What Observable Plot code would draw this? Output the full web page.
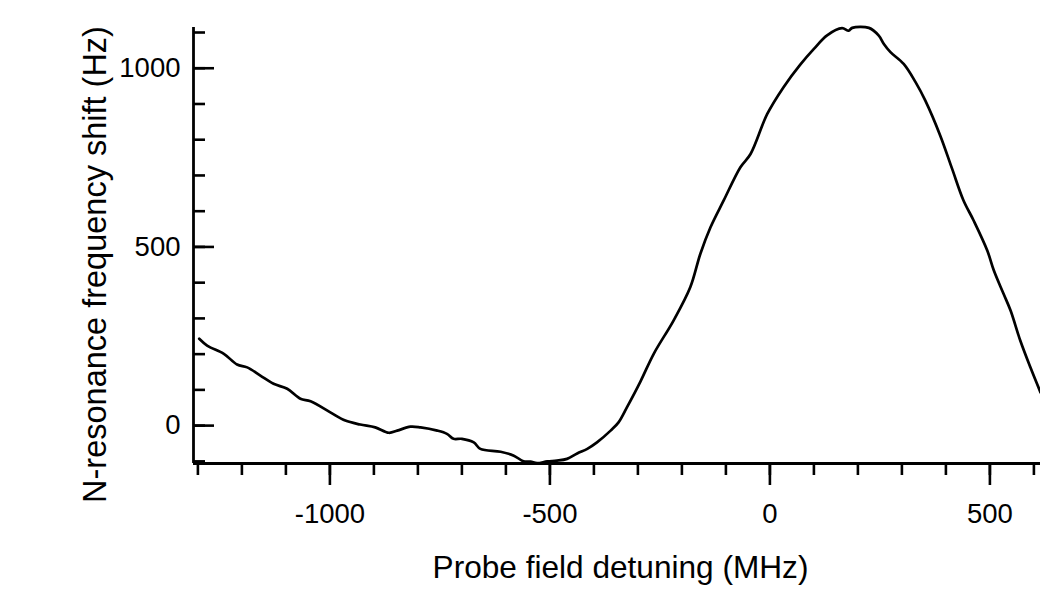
<!DOCTYPE html>
<html>
<head>
<meta charset="utf-8">
<script src="https://cdn.jsdelivr.net/npm/d3@7"></script>
<script src="https://cdn.jsdelivr.net/npm/@observablehq/plot@0.6"></script>
<style>
  html, body { margin: 0; padding: 0; background: white; }
  #chart { width: 1040px; height: 590px; }
</style>
</head>
<body>
<div id="chart"></div>
<script>
// Probe field detuning (MHz)
const detuning = [-1297, -1279, -1241, -1211, -1188, -1158, -1128, -1097, -1067, -1044, -999, -965, -931, -897, -866, -847, -817, -794, -756, -734, -719, -700, -673, -658, -612, -582, -560, -544, -529, -506, -484, -461, -438, -415, -393, -362, -344, -325, -294, -264, -219, -181, -158, -135, -105, -67, -44, -6, 31, 69, 100, 130, 164, 179, 187, 225, 247, 259, 274, 304, 331, 353, 387, 414, 440, 463, 494, 509, 531, 547, 569, 592, 615];
// N-resonance frequency shift (Hz)
const shift = [243, 224, 201, 171, 163, 140, 117, 103, 75, 68, 37, 14, 3, -5, -20, -14, -3, -5, -14, -23, -37, -37, -47, -65, -73, -84, -100, -101, -105, -100, -98, -93, -78, -65, -47, -14, 9, 51, 124, 201, 294, 387, 481, 555, 630, 723, 760, 872, 947, 1010, 1054, 1092, 1112, 1105, 1113, 1113, 1092, 1068, 1045, 1012, 961, 910, 812, 719, 630, 574, 490, 434, 369, 322, 238, 163, 93];

const xDomain = [-1310, 615];
const yDomain = [-106, 1114];
const xMinorTicks = d3.range(-1300, 601, 100);
const xMajorTicks = [-1000, -500, 0, 500];
const yMinorTicks = d3.range(-100, 1101, 100);
const yMajorTicks = [0, 500, 1000];
const xLabel = "Probe field detuning (MHz)";
const yLabel = "N-resonance frequency shift (Hz)";

const data = detuning.map((x, i) => ({x, y: shift[i]}));

const W = 1040, H = 590;
const mL = 193, mR = 0, mT = 27, mB = 127;
const frameW = W - mL - mR;
const fmt = d => String(d);

const chart = Plot.plot({
  width: W,
  height: H,
  marginLeft: mL,
  marginRight: mR,
  marginTop: mT,
  marginBottom: mB,
  style: {fontFamily: "'Liberation Sans', Arial, Helvetica, sans-serif", background: "white", color: "black"},
  x: {domain: xDomain, axis: null},
  y: {domain: yDomain, axis: null},
  marks: [
    // axis lines
    Plot.ruleX([xDomain[0]], {stroke: "black", strokeWidth: 2.8}),
    Plot.ruleY([yDomain[0]], {stroke: "black", strokeWidth: 2.8}),
    // x ticks (outward, below)
    Plot.axisX({ticks: xMinorTicks, tickSize: 12, strokeWidth: 2.6, tickFormat: () => "", label: null}),
    Plot.axisX({ticks: xMajorTicks, tickSize: 22, strokeWidth: 2.6, tickPadding: 18, fontSize: 27.5, tickFormat: fmt, label: null}),
    // y ticks (inward, to the right)
    Plot.tickY(yMinorTicks, {y: d => d, stroke: "black", strokeWidth: 2.6, insetRight: frameW - 12}),
    Plot.tickY(yMajorTicks, {y: d => d, stroke: "black", strokeWidth: 2.6, insetRight: frameW - 21}),
    Plot.axisY({ticks: yMajorTicks, tickSize: 0, tickPadding: 13, fontSize: 27.5, tickFormat: fmt, label: null}),
    // curve
    Plot.line(data, {x: "x", y: "y", stroke: "black", strokeWidth: 2.7, curve: "catmull-rom"}),
    // axis titles
    Plot.text([xLabel], {text: d => d, frameAnchor: "bottom", dx: 3.5, dy: 104, fontSize: 31.6, textAnchor: "middle", lineAnchor: "middle"}),
    Plot.text([yLabel], {text: d => d, frameAnchor: "left", rotate: -90, dx: -98, dy: 19, fontSize: 32.5, textAnchor: "middle", lineAnchor: "middle"})
  ]
});
document.getElementById("chart").appendChild(chart);
</script>
</body>
</html>
